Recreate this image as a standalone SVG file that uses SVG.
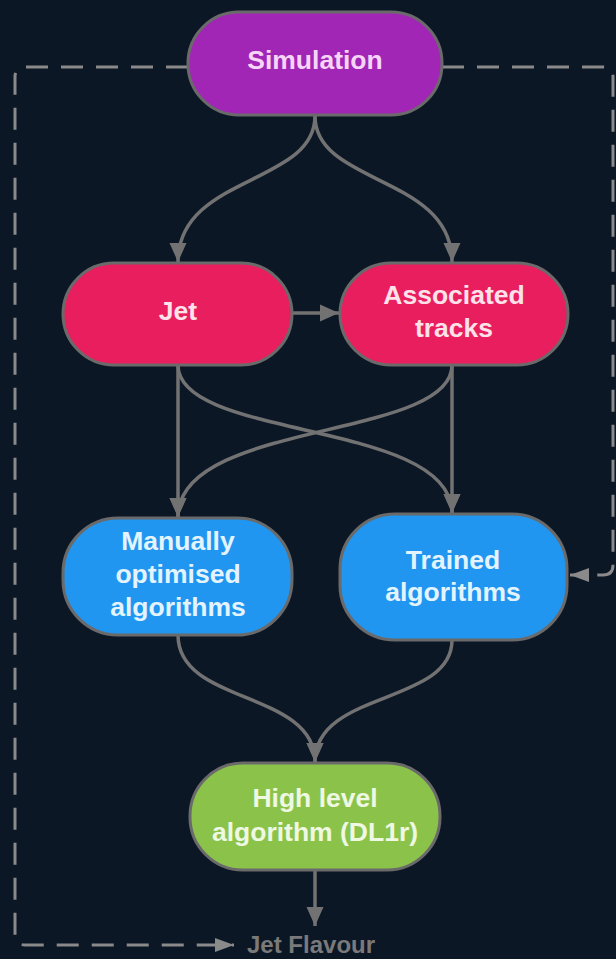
<svg xmlns="http://www.w3.org/2000/svg" width="616" height="959" viewBox="0 0 616 959">
<defs>
<style>
.node{stroke:#6a6a6a;stroke-width:3}
.lbl{font-family:"Liberation Sans",Arial,sans-serif;font-weight:bold;font-size:26.5px;text-anchor:middle;dominant-baseline:central}
.edge{fill:none;stroke:#727272;stroke-width:3.5}
.dash{fill:none;stroke:#8a8a8a;stroke-width:3}
</style>
<marker id="ah" markerUnits="userSpaceOnUse" markerWidth="20" markerHeight="18" refX="19" refY="9" orient="auto">
<path d="M0,0.5 L19,9 L0,17.5 z" fill="#727272"/>
</marker>
<marker id="ahd" markerUnits="userSpaceOnUse" markerWidth="20" markerHeight="18" refX="19" refY="9" orient="auto">
<path d="M0,2 L19,9 L0,16 z" fill="#8a8a8a"/>
</marker>
</defs>
<rect width="616" height="959" fill="#0c1726"/>
<g id="connectors">
<path class="dash" stroke-dasharray="22 13" d="M188,67 L25,67 Q15,67 15,77 L15,935 Q15,945 25,945 L234,945" marker-end="url(#ahd)"/>
<path class="dash" stroke-dasharray="22 13" d="M442,67 L603,67 Q613,67 613,77 L613,565 Q613,575 603,575 L570,575" marker-end="url(#ahd)"/>
<path class="edge" d="M315,116 C315,185 178,175 178,262" marker-end="url(#ah)"/>
<path class="edge" d="M315,116 C315,185 452,175 452,262" marker-end="url(#ah)"/>
<path class="edge" d="M292,313 L339,313" marker-end="url(#ah)"/>
<path class="edge" d="M178,365 L178,517" marker-end="url(#ah)"/>
<path class="edge" d="M178,365 C178,440 452,420 452,513" marker-end="url(#ah)"/>
<path class="edge" d="M452,365 L452,513" marker-end="url(#ah)"/>
<path class="edge" d="M452,365 C452,440 178,420 178,517" marker-end="url(#ah)"/>
<path class="edge" d="M178,635 C178,705 315,690 315,762" marker-end="url(#ah)"/>
<path class="edge" d="M452,640 C452,705 315,690 315,762" marker-end="url(#ah)"/>
<path class="edge" d="M315,870 L315,926" marker-end="url(#ah)"/>
</g>
<g id="simulation">
<rect class="node" x="188" y="12" width="254" height="103" rx="51" fill="#a126b6"/>
<text class="lbl" x="315" y="60" fill="#f6d5f8">Simulation</text>
</g>
<g id="jet">
<rect class="node" x="63" y="263" width="229" height="102" rx="51" fill="#e91e5e"/>
<text class="lbl" x="178" y="311" fill="#fde2ea">Jet</text>
</g>
<g id="tracks">
<rect class="node" x="340" y="263" width="228" height="102" rx="51" fill="#e91e5e"/>
<text class="lbl" x="454" y="295" fill="#fde2ea">Associated</text>
<text class="lbl" x="454" y="328" fill="#fde2ea">tracks</text>
</g>
<g id="manual">
<rect class="node" x="63" y="518" width="229" height="117" rx="55" fill="#2196f0"/>
<text class="lbl" x="178" y="541" fill="#e3f4ff">Manually</text>
<text class="lbl" x="178" y="574" fill="#e3f4ff">optimised</text>
<text class="lbl" x="178" y="607" fill="#e3f4ff">algorithms</text>
</g>
<g id="trained">
<rect class="node" x="340" y="514" width="227" height="126" rx="55" fill="#2196f0"/>
<text class="lbl" x="453" y="560" fill="#e3f4ff">Trained</text>
<text class="lbl" x="453" y="592" fill="#e3f4ff">algorithms</text>
</g>
<g id="highlevel">
<rect class="node" x="190" y="763" width="250" height="107" rx="53" fill="#8bc34a"/>
<text class="lbl" x="315" y="798" fill="#eef8e2">High level</text>
<text class="lbl" x="315" y="832" fill="#eef8e2">algorithm (DL1r)</text>
</g>
<g id="jetflavour">
<text x="247" y="953" font-family="Liberation Sans,Arial,sans-serif" font-weight="bold" font-size="24" fill="#7a7a7a">Jet Flavour</text>
</g>
</svg>
